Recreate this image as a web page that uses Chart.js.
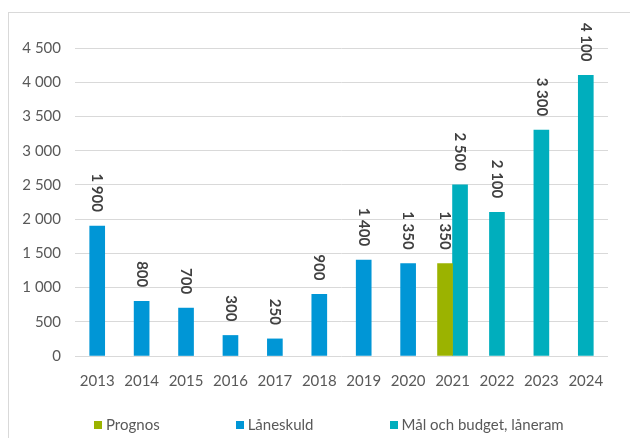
<!DOCTYPE html>
<html>
<head>
<meta charset="utf-8">
<script src="https://cdn.jsdelivr.net/npm/chart.js@4"></script>
<style>
  body { margin: 0; background: #fff; font-family: Lato, sans-serif; }
  .wrap { position: relative; width: 630px; height: 438px; overflow: hidden; }
  .legend { position: absolute; left: 94px; top: 415px; display: flex; gap: 76px; font-size: 15px; color: #595959; }
  .legend span.box { display: inline-block; width: 8px; height: 8px; margin-right: 4px; vertical-align: 1px; }
</style>
</head>
<body>
<div class="wrap">
  <canvas id="myChart" width="630" height="438"></canvas>
  <div class="legend" id="legend"></div>
</div>
<script>
const years = ['2013', '2014', '2015', '2016', '2017', '2018', '2019', '2020', '2021', '2022', '2023', '2024'];
const prognos = [null, null, null, null, null, null, null, null, 1350, null, null, null];
const laneskuld = [1900, 800, 700, 300, 250, 900, 1400, 1350, null, null, null, null];
const laneram = [null, null, null, null, null, null, null, null, 2500, 2100, 3300, 4100];

// 4500 -> "4 500"
function fmt(v) {
  return String(v).replace(/\B(?=(\d{3})+(?!\d))/g, ' ');
}

const frame = {
  id: 'frame',
  beforeDraw(chart) {
    const c = chart.ctx;
    c.save();
    c.fillStyle = '#fff';
    c.fillRect(0, 0, chart.width, chart.height);
    c.strokeStyle = '#d9d9d9';
    c.lineWidth = 1;
    c.strokeRect(8.5, 12.5, 700, 600);
    c.restore();
  }
};

const valueLabels = {
  id: 'valueLabels',
  afterDatasetsDraw(chart) {
    const c = chart.ctx;
    c.save();
    c.font = 'bold 15px Lato';
    c.fillStyle = '#404040';
    chart.data.datasets.forEach((ds, i) => {
      chart.getDatasetMeta(i).data.forEach((bar, j) => {
        const v = ds.data[j];
        if (v == null) return;
        c.save();
        c.translate(bar.x, bar.y - 14);
        c.rotate(Math.PI / 2);
        c.textAlign = 'right';
        c.textBaseline = 'middle';
        c.fillText(fmt(v), 0, 0);
        c.restore();
      });
    });
    c.restore();
  }
};

const ctx = document.getElementById('myChart').getContext('2d');
const myChart = new Chart(ctx, {
  type: 'bar',
  data: {
    labels: years,
    datasets: [
      { label: 'Prognos', data: prognos, backgroundColor: '#9bb300' },
      { label: 'Låneskuld', data: laneskuld, backgroundColor: '#0096d6' },
      { label: 'Mål och budget, låneram', data: laneram, backgroundColor: '#00aebd' },
    ],
  },
  options: {
    responsive: false,
    animation: false,
    skipNull: true,
    barThickness: 15,
    layout: { padding: { top: 48, right: 22, left: 0, bottom: 0 } },
    plugins: {
      legend: { display: false },
      tooltip: { enabled: false },
    },
    scales: {
      x: {
        grid: { display: false },
        border: { display: false },
        ticks: { color: '#595959', font: { family: 'Lato', size: 15 }, padding: 8, maxRotation: 0 },
        afterFit(s) { s.height = 82; },
      },
      y: {
        min: 0,
        max: 4500,
        grid: { color: '#d9d9d9', drawTicks: false },
        border: { display: false },
        ticks: {
          stepSize: 500,
          color: '#595959',
          font: { family: 'Lato', size: 15 },
          padding: 14,
          callback: (v) => fmt(v),
        },
        afterFit(s) { s.width = 75; },
      },
    },
  },
  plugins: [frame, valueLabels],
});

// legend built from the datasets
document.getElementById('legend').innerHTML = myChart.data.datasets
  .map((d) => '<div><span class="box" style="background:' + d.backgroundColor + '"></span>' + d.label + '</div>')
  .join('');
</script>
</body>
</html>
